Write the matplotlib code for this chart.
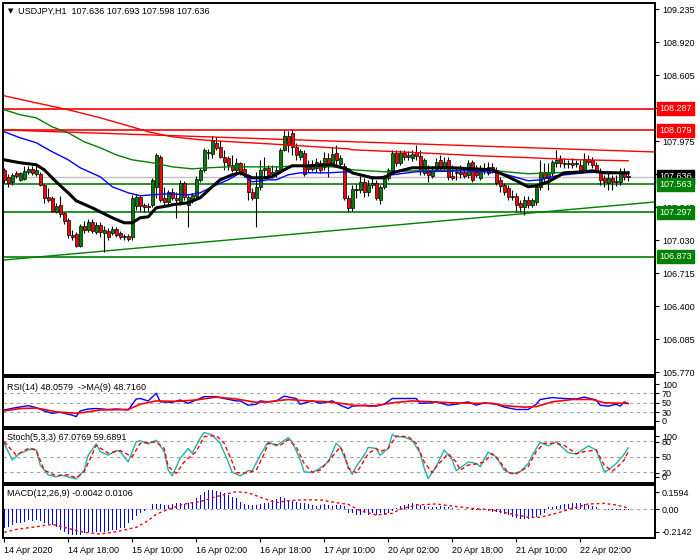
import matplotlib.pyplot as plt
from matplotlib.transforms import blended_transform_factory

plt.rcParams['font.family'] = ['Liberation Sans', 'DejaVu Sans']
FS = 6.5
W, H = 700, 560

# ---- USDJPY H1 candles (bar 0 = 14 Apr 02:00) ----
opens = [107.703, 107.636, 107.588, 107.674, 107.607, 107.617, 107.684, 107.712, 107.665, 107.665,
         107.560, 107.445, 107.436, 107.302, 107.369, 107.292, 107.225, 107.082, 107.092, 106.977,
         107.168, 107.130, 107.206, 107.111, 107.178, 107.101, 107.120, 107.101, 107.140, 107.101,
         107.063, 107.073, 107.063, 107.359, 107.445, 107.369, 107.359, 107.369, 107.541, 107.827,
         107.436, 107.397, 107.493, 107.436, 107.397, 107.579, 107.369, 107.426, 107.455, 107.607,
         107.703, 107.865, 107.856, 107.961, 107.922, 107.827, 107.817, 107.751, 107.703, 107.770,
         107.712, 107.655, 107.493, 107.436, 107.541, 107.703, 107.722, 107.665, 107.684, 107.703,
         107.894, 108.027, 108.056, 107.922, 107.827, 107.865, 107.741, 107.712, 107.722, 107.770,
         107.731, 107.817, 107.770, 107.865, 107.760, 107.741, 107.436, 107.340, 107.521, 107.512,
         107.588, 107.493, 107.560, 107.579, 107.416, 107.541, 107.626, 107.703, 107.865, 107.770,
         107.865, 107.827, 107.817, 107.875, 107.836, 107.674, 107.703, 107.646, 107.712, 107.798,
         107.731, 107.798, 107.646, 107.674, 107.684, 107.684, 107.655, 107.779, 107.684, 107.626,
         107.722, 107.674, 107.731, 107.703, 107.607, 107.560, 107.531, 107.455, 107.455, 107.388,
         107.350, 107.416, 107.369, 107.397, 107.541, 107.684, 107.626, 107.674, 107.770, 107.808,
         107.770, 107.760, 107.770, 107.760, 107.751, 107.703, 107.808, 107.798, 107.751, 107.684,
         107.626, 107.579, 107.626, 107.598, 107.588, 107.684, 107.636]
highs = [107.722, 107.665, 107.674, 107.693, 107.684, 107.741, 107.741, 107.741, 107.741, 107.684,
         107.569, 107.531, 107.455, 107.388, 107.455, 107.302, 107.245, 107.130, 107.111, 107.187,
         107.216, 107.235, 107.235, 107.206, 107.206, 107.168, 107.149, 107.168, 107.159, 107.120,
         107.092, 107.092, 107.464, 107.474, 107.464, 107.388, 107.388, 107.626, 107.865, 107.846,
         107.541, 107.512, 107.531, 107.493, 107.607, 107.598, 107.464, 107.483, 107.646, 107.722,
         107.913, 107.903, 108.027, 108.018, 107.989, 107.894, 107.836, 107.846, 107.817, 107.779,
         107.770, 107.665, 107.531, 107.684, 107.798, 107.827, 107.751, 107.751, 107.741, 107.913,
         108.085, 108.075, 108.085, 107.961, 107.903, 107.894, 107.798, 107.798, 107.817, 107.798,
         107.875, 107.865, 107.922, 107.941, 107.846, 107.770, 107.464, 107.560, 107.569, 107.646,
         107.626, 107.607, 107.626, 107.607, 107.560, 107.655, 107.722, 107.894, 107.894, 107.894,
         107.894, 107.884, 107.894, 107.941, 107.894, 107.817, 107.751, 107.741, 107.817, 107.846,
         107.827, 107.827, 107.751, 107.731, 107.751, 107.722, 107.798, 107.798, 107.751, 107.751,
         107.770, 107.779, 107.770, 107.731, 107.636, 107.579, 107.560, 107.512, 107.483, 107.416,
         107.455, 107.455, 107.436, 107.560, 107.798, 107.770, 107.770, 107.798, 107.894, 107.846,
         107.817, 107.798, 107.817, 107.798, 107.798, 107.865, 107.846, 107.827, 107.779, 107.722,
         107.655, 107.674, 107.655, 107.655, 107.722, 107.722, 107.693]
lows = [107.579, 107.541, 107.560, 107.626, 107.598, 107.607, 107.665, 107.655, 107.646, 107.550,
        107.388, 107.397, 107.302, 107.292, 107.254, 107.187, 107.054, 107.034, 106.968, 106.968,
        107.101, 107.111, 107.101, 107.092, 107.063, 106.920, 107.034, 107.082, 107.063, 107.044,
        107.034, 107.025, 107.034, 107.321, 107.311, 107.302, 107.311, 107.350, 107.436, 107.397,
        107.350, 107.369, 107.416, 107.245, 107.369, 107.416, 107.159, 107.388, 107.436, 107.588,
        107.684, 107.808, 107.817, 107.894, 107.817, 107.703, 107.703, 107.684, 107.674, 107.655,
        107.636, 107.416, 107.416, 107.159, 107.512, 107.636, 107.626, 107.626, 107.636, 107.674,
        107.884, 107.875, 107.846, 107.798, 107.798, 107.646, 107.684, 107.693, 107.684, 107.674,
        107.703, 107.636, 107.741, 107.751, 107.722, 107.416, 107.302, 107.311, 107.436, 107.483,
        107.445, 107.455, 107.531, 107.416, 107.378, 107.521, 107.607, 107.684, 107.741, 107.751,
        107.798, 107.798, 107.789, 107.798, 107.655, 107.655, 107.588, 107.626, 107.693, 107.703,
        107.703, 107.607, 107.607, 107.607, 107.626, 107.626, 107.626, 107.588, 107.636, 107.607,
        107.665, 107.655, 107.674, 107.560, 107.493, 107.464, 107.416, 107.416, 107.302, 107.302,
        107.273, 107.340, 107.350, 107.369, 107.512, 107.579, 107.512, 107.646, 107.731, 107.731,
        107.722, 107.722, 107.722, 107.731, 107.684, 107.684, 107.751, 107.722, 107.674, 107.560,
        107.541, 107.512, 107.512, 107.550, 107.560, 107.607, 107.598]
closes = [107.607, 107.579, 107.655, 107.646, 107.674, 107.693, 107.712, 107.674, 107.703, 107.560,
          107.436, 107.416, 107.311, 107.359, 107.283, 107.216, 107.082, 107.063, 106.977, 107.168,
          107.130, 107.206, 107.120, 107.178, 107.111, 107.130, 107.063, 107.140, 107.082, 107.063,
          107.073, 107.044, 107.436, 107.445, 107.359, 107.350, 107.350, 107.607, 107.846, 107.416,
          107.397, 107.493, 107.436, 107.416, 107.579, 107.445, 107.445, 107.464, 107.617, 107.703,
          107.894, 107.875, 107.980, 107.913, 107.827, 107.779, 107.751, 107.703, 107.770, 107.674,
          107.655, 107.493, 107.436, 107.541, 107.703, 107.722, 107.655, 107.684, 107.703, 107.894,
          108.027, 107.941, 107.922, 107.846, 107.884, 107.665, 107.712, 107.760, 107.779, 107.703,
          107.817, 107.751, 107.856, 107.798, 107.817, 107.436, 107.340, 107.521, 107.512, 107.588,
          107.493, 107.560, 107.579, 107.436, 107.541, 107.626, 107.703, 107.865, 107.770, 107.865,
          107.827, 107.846, 107.856, 107.836, 107.693, 107.798, 107.655, 107.703, 107.779, 107.731,
          107.779, 107.636, 107.626, 107.684, 107.665, 107.646, 107.770, 107.607, 107.655, 107.703,
          107.703, 107.731, 107.703, 107.579, 107.550, 107.493, 107.445, 107.445, 107.369, 107.350,
          107.416, 107.369, 107.416, 107.541, 107.684, 107.626, 107.684, 107.779, 107.798, 107.770,
          107.760, 107.770, 107.751, 107.770, 107.703, 107.808, 107.779, 107.751, 107.703, 107.607,
          107.588, 107.626, 107.588, 107.588, 107.684, 107.636, 107.636]

# ---- moving averages (sampled bars) ----
ma_black_idx = [0, 4, 8, 10, 13, 16, 18, 22, 24, 27, 30, 32, 34, 36, 38, 41, 42, 46, 49, 52, 54, 57,
                59, 62, 65, 67, 70, 72, 76, 82, 86, 87, 92, 95, 97, 102, 112, 122, 126, 131, 133,
                136, 140, 145, 147, 150, 156]
ma_black = [107.798, 107.770, 107.751, 107.703, 107.588, 107.483, 107.407, 107.340, 107.302, 107.245,
            107.197, 107.197, 107.245, 107.254, 107.340, 107.359, 107.369, 107.388, 107.436, 107.541,
            107.607, 107.655, 107.674, 107.626, 107.626, 107.636, 107.703, 107.741, 107.741, 107.751,
            107.703, 107.674, 107.626, 107.626, 107.674, 107.722, 107.722, 107.703, 107.636, 107.541,
            107.550, 107.588, 107.674, 107.684, 107.693, 107.674, 107.674]
ma_blue_idx = [0, 4, 8, 12, 16, 19, 24, 27, 31, 34, 37, 41, 46, 49, 52, 56, 59, 62, 66, 68, 71, 74,
               81, 86, 87, 93, 97, 103, 116, 124, 131, 134, 138, 145, 150, 156]
ma_blue = [108.066, 108.008, 107.961, 107.875, 107.798, 107.722, 107.636, 107.541, 107.483, 107.455,
           107.464, 107.474, 107.464, 107.483, 107.541, 107.607, 107.674, 107.588, 107.607, 107.607,
           107.655, 107.674, 107.674, 107.684, 107.674, 107.626, 107.655, 107.684, 107.693, 107.674,
           107.598, 107.607, 107.646, 107.674, 107.684, 107.665]
ma_green_idx = [0, 4, 8, 12, 16, 20, 24, 28, 32, 37, 42, 47, 51, 56, 62, 68, 74, 82, 86, 87, 95, 103,
                120, 131, 137, 145, 156]
ma_green = [108.276, 108.228, 108.199, 108.113, 108.056, 107.970, 107.913, 107.846, 107.798, 107.770,
            107.731, 107.712, 107.722, 107.731, 107.731, 107.731, 107.741, 107.731, 107.712, 107.703,
            107.684, 107.693, 107.703, 107.665, 107.674, 107.684, 107.674]
ma_red_idx = [0, 8, 16, 24, 31, 36, 42, 49, 57, 66, 74, 86, 87, 104, 119, 132, 144, 156]
ma_red = [108.409, 108.342, 108.276, 108.199, 108.123, 108.066, 108.018, 107.989, 107.970, 107.951,
          107.932, 107.903, 107.894, 107.865, 107.836, 107.817, 107.798, 107.789]

# ---- levels and trend lines ----
res_levels = [108.287, 108.079]
sup_levels = [107.563, 107.297, 106.873]
last_price = 107.636
red_trend = [108.083, 107.873]     # from first bar to right edge
green_trend = [106.842, 107.396]

# ---- RSI(14) and its MA(9) ----
rsi_idx = [0, 3, 6, 8, 10, 12, 14, 17, 18, 19, 21, 23, 26, 28, 31, 33, 34, 36, 38, 39, 42, 44, 46,
           48, 50, 53, 55, 58, 59, 61, 63, 64, 66, 68, 70, 73, 74, 77, 79, 82, 84, 86, 87, 90, 93,
           95, 97, 99, 103, 104, 107, 108, 111, 113, 116, 118, 120, 123, 125, 128, 131, 133, 134,
           137, 140, 143, 145, 148, 149, 151, 153, 154, 155, 156]
rsi = [35, 40, 44, 40, 33, 28, 30, 24, 21, 33, 37, 38, 36, 37, 35, 58, 59, 54, 70, 52, 51, 56, 49,
       56, 63, 63, 59, 54, 54, 45, 47, 54, 52, 54, 64, 59, 47, 54, 49, 54, 45, 38, 43, 45, 43, 47,
       59, 59, 59, 49, 50, 52, 45, 47, 52, 45, 50, 47, 41, 36, 36, 47, 57, 61, 59, 58, 62, 56, 45,
       43, 47, 43, 52, 48.06]
rsi_ma_idx = [0, 4, 8, 10, 13, 18, 21, 24, 31, 34, 38, 43, 48, 53, 58, 63, 66, 71, 76, 81, 86, 87,
              92, 97, 102, 107, 112, 117, 122, 125, 130, 133, 137, 142, 147, 150, 156]
rsi_ma = [33, 38, 39, 36, 31, 28, 31, 35, 36, 47, 54, 53, 56, 62, 58, 51, 52, 57, 54, 52, 47, 45,
          43, 50, 54, 52, 50, 49, 49, 44, 41, 42, 52, 57, 57, 50, 48.72]

# ---- Stochastic(5,3,3) ----
stoch_idx = [0, 2, 4, 7, 8, 9, 11, 13, 14, 16, 18, 20, 21, 23, 24, 26, 28, 29, 31, 33, 34, 36, 38,
             40, 41, 42, 44, 46, 47, 49, 50, 52, 54, 56, 57, 59, 61, 62, 64, 66, 68, 71, 72, 74, 75,
             77, 79, 81, 83, 84, 86, 87, 88, 90, 91, 93, 94, 96, 97, 98, 100, 102, 104, 105, 106,
             108, 110, 112, 113, 115, 116, 118, 119, 121, 123, 125, 127, 129, 131, 132, 134, 136,
             138, 141, 143, 146, 148, 150, 151, 153, 155, 156]
stoch_k = [76, 44, 57, 66, 63, 34, 15, 11, 15, 11, 7, 24, 53, 75, 60, 53, 62, 60, 40, 79, 81, 75,
           82, 60, 24, 13, 47, 66, 57, 86, 97, 92, 76, 40, 20, 13, 23, 23, 53, 79, 71, 87, 79, 44,
           21, 19, 28, 40, 76, 69, 31, 16, 31, 53, 68, 66, 53, 66, 93, 89, 88, 82, 57, 28, 8, 31,
           63, 44, 23, 34, 40, 37, 31, 59, 50, 24, 17, 21, 37, 53, 78, 71, 79, 58, 55, 71, 63, 21,
           24, 37, 55, 67.08]
stoch_d_idx = [0, 3, 6, 8, 10, 13, 16, 18, 20, 22, 23, 26, 29, 32, 34, 38, 40, 41, 43, 45, 48, 50,
               53, 55, 57, 58, 61, 63, 65, 66, 69, 71, 73, 75, 77, 79, 82, 84, 85, 86, 88, 89, 91,
               93, 94, 96, 98, 101, 103, 105, 107, 108, 111, 113, 114, 116, 118, 120, 122, 124, 126,
               128, 131, 133, 135, 138, 140, 143, 145, 148, 150, 152, 153, 155, 156]
stoch_d = [79, 53, 66, 63, 24, 13, 15, 9, 21, 55, 72, 57, 62, 50, 76, 79, 66, 31, 18, 40, 60, 89,
           91, 76, 40, 19, 19, 24, 56, 76, 72, 83, 69, 37, 20, 24, 50, 69, 56, 28, 19, 30, 56, 66,
           60, 66, 90, 89, 76, 40, 19, 31, 56, 40, 24, 34, 36, 40, 56, 40, 19, 17, 31, 60, 76, 76,
           72, 56, 60, 63, 34, 22, 28, 44, 59.69]

# ---- MACD(12,26,9) ----
macd_hist = [-0.157, -0.144, -0.130, -0.115, -0.110, -0.102, -0.088, -0.093, -0.088, -0.093,
             -0.110, -0.124, -0.130, -0.149, -0.171, -0.190, -0.204, -0.212, -0.214, -0.212,
             -0.198, -0.190, -0.185, -0.185, -0.185, -0.185, -0.179, -0.171, -0.171, -0.157,
             -0.157, -0.115, -0.088, -0.055, -0.033, -0.011, 0.002, 0.044, 0.044, 0.044,
             0.036, 0.036, 0.044, 0.055, 0.049, 0.044, 0.055, 0.063, 0.091, 0.118,
             0.146, 0.159, 0.159, 0.154, 0.146, 0.132, 0.118, 0.105, 0.091, 0.063,
             0.044, 0.036, 0.036, 0.036, 0.044, 0.049, 0.055, 0.078, 0.083, 0.100,
             0.091, 0.078, 0.069, 0.063, 0.055, 0.049, 0.044, 0.036, 0.027, 0.036,
             0.044, 0.036, 0.027, 0.036, 0.036, 0.027, -0.033, -0.033, -0.047, -0.047,
             -0.033, -0.047, -0.033, -0.047, -0.033, -0.047, -0.033, -0.011, 0.009, 0.027,
             0.036, 0.044, 0.049, 0.044, 0.036, 0.027, 0.022, 0.022, 0.022, 0.027,
             0.022, 0.017, 0.009, 0.004, 0.003, 0.002, 0.000, -0.003, -0.004, -0.007,
             -0.009, -0.013, -0.018, -0.019, -0.027, -0.039, -0.047, -0.066, -0.074, -0.080,
             -0.083, -0.080, -0.074, -0.061, -0.047, -0.027, 0.017, 0.022, 0.027, 0.036,
             0.041, 0.044, 0.049, 0.055, 0.049, 0.044, 0.036, 0.027, 0.017, 0.004,
             0.000, -0.002, -0.003, -0.004, -0.004, -0.004, -0.004]
macd_sig_idx = [0, 3, 8, 12, 16, 20, 24, 28, 33, 36, 38, 41, 45, 49, 53, 58, 61, 64, 68, 71, 74,
                79, 83, 86, 89, 93, 97, 99, 103, 108, 112, 117, 122, 126, 131, 134, 138, 142, 146,
                150, 153, 156]
macd_sig = [-0.190, -0.166, -0.144, -0.124, -0.157, -0.190, -0.204, -0.185, -0.149, -0.093, -0.041,
            0.000, 0.044, 0.063, 0.105, 0.146, 0.137, 0.100, 0.055, 0.071, 0.078, 0.078, 0.055,
            0.041, -0.011, -0.047, -0.033, 0.000, 0.036, 0.044, 0.027, 0.008, -0.005, -0.033,
            -0.066, -0.066, -0.033, 0.008, 0.044, 0.049, 0.036, 0.011]

time_ticks = [0, 16, 32, 48, 64, 80, 96, 112, 128, 144]
time_labels = ['14 Apr 2020', '14 Apr 18:00', '15 Apr 10:00', '16 Apr 02:00', '16 Apr 18:00',
               '17 Apr 10:00', '20 Apr 02:00', '20 Apr 18:00', '21 Apr 10:00', '22 Apr 02:00']

GREEN = '#008000'
RED = '#ff0000'
GRID = '#a0a0a0'

fig = plt.figure(figsize=(W / 100, H / 100), dpi=100)


def panel(top, bottom):
    ax = fig.add_axes([3 / W, 1 - bottom / H, 652 / W, (bottom - top) / H])
    ax.set_xlim(-0.3, 162.7)
    ax.yaxis.tick_right()
    ax.tick_params(axis='y', labelsize=FS, length=3, pad=2, direction='out')
    ax.tick_params(axis='x', bottom=False, labelbottom=False)
    for s in ax.spines.values():
        s.set_linewidth(1.4)
    return ax


def tag(ax, y, text, color):
    tr = blended_transform_factory(ax.transAxes, ax.transData)
    ax.text(1.0066, y, text, transform=tr, ha='left', va='center', color='white', fontsize=FS,
            bbox=dict(boxstyle='square,pad=0.25', fc=color, ec=color), clip_on=False, zorder=10)


# ---------- main price panel ----------
ax = panel(3, 375)
ax.set_ylim(105.744, 109.295)
ticks = [109.235, 108.920, 108.605, 108.290, 107.975, 107.660, 107.345, 107.030, 106.715,
         106.400, 106.085, 105.770]
ax.set_yticks(ticks)
# 108.290 sits fully under the 108.287 tag, so its label is left blank
ax.set_yticklabels(['' if t == 108.290 else '%.3f' % t for t in ticks])

n = len(closes)
xs = list(range(n))
ax.axhline(last_price, color='#c0c0c0', lw=1, zorder=1)
for lv in res_levels:
    ax.axhline(lv, color=RED, lw=1.2, zorder=2)
for lv in sup_levels:
    ax.axhline(lv, color=GREEN, lw=1.2, zorder=2)
ax.plot([0, 162.7], red_trend, color=RED, lw=1, zorder=2)
ax.plot([0, 162.7], green_trend, color=GREEN, lw=1, zorder=2)

ax.vlines(xs, lows, highs, color='black', lw=0.8, zorder=3)
bottoms = [min(o, c) for o, c in zip(opens, closes)]
heights = [max(abs(c - o), 0.003) for o, c in zip(opens, closes)]
colors = [GREEN if c > o else (RED if c < o else 'black') for o, c in zip(opens, closes)]
ax.bar(xs, heights, 0.66, bottoms, color=colors, edgecolor='black', linewidth=0.5, zorder=4)

ax.plot(ma_red_idx, ma_red, color=RED, lw=1, zorder=5)
ax.plot(ma_green_idx, ma_green, color=GREEN, lw=1, zorder=5)
ax.plot(ma_blue_idx, ma_blue, color='blue', lw=1, zorder=5)
ax.plot(ma_black_idx, ma_black, color='black', lw=2.2, zorder=6)

tag(ax, 108.287, '108.287', RED)
tag(ax, 108.079, '108.079', RED)
tag(ax, last_price, '107.636', 'black')
tag(ax, 107.563, '107.563', GREEN)
tag(ax, 107.297, '107.297', GREEN)
tag(ax, 106.873, '106.873', GREEN)

fig.text(8 / W, 1 - 11 / H, '\u25bc', fontsize=5, family='DejaVu Sans', va='center')
fig.text(18 / W, 1 - 11 / H, 'USDJPY,H1  107.636 107.693 107.598 107.636', fontsize=FS, va='center')

# ---------- RSI ----------
ax_rsi = panel(377, 427)
ax_rsi.set_ylim(-0.8, 104.2)
for lv in [70, 50, 30]:
    ax_rsi.axhline(lv, color=GRID, lw=0.8, ls=(0, (3, 3)))
ax_rsi.plot(rsi_idx, rsi, color='blue', lw=1)
ax_rsi.plot(rsi_ma_idx, rsi_ma, color=RED, lw=1.2)
ax_rsi.set_yticks([89.5, 70, 50, 30, 11.8])
ax_rsi.set_yticklabels(['100', '70', '50', '30', '0'])
fig.text(7 / W, 1 - 387 / H, 'RSI(14) 48.0579  ->MA(9) 48.7160', fontsize=FS, va='center')

# ---------- Stochastic ----------
ax_st = panel(429, 483)
ax_st.set_ylim(-0.8, 103.7)
for lv in [80, 50, 20]:
    ax_st.axhline(lv, color=GRID, lw=0.8, ls=(0, (3, 3)))
ax_st.plot(stoch_idx, stoch_k, color='#20b2aa', lw=1)
ax_st.plot(stoch_d_idx, stoch_d, color=RED, lw=1, ls=(0, (3, 2)))
ax_st.set_yticks([90, 79, 50, 19, 11.4])
ax_st.set_yticklabels(['100', '80', '50', '20', '0'])
fig.text(7 / W, 1 - 438 / H, 'Stoch(5,3,3) 67.0769 59.6891', fontsize=FS, va='center')

# ---------- MACD ----------
ax_m = panel(485, 538)
ax_m.set_ylim(-0.237, 0.201)
ax_m.axhline(0, color=GRID, lw=0.8, ls=(0, (3, 3)))
ax_m.bar(xs, macd_hist, 0.3, color='blue', zorder=3)
ax_m.plot(macd_sig_idx, macd_sig, color=RED, lw=1, ls=(0, (2, 2)), zorder=4)
ax_m.set_yticks([0.140, 0, -0.185])
ax_m.set_yticklabels(['0.1594', '0.00', '-0.2142'])
fig.text(7 / W, 1 - 494 / H, 'MACD(12,26,9) -0.0042 0.0106', fontsize=FS, va='center')

ax_m.tick_params(axis='x', bottom=True, labelbottom=True, labelsize=FS, length=3, pad=3)
ax_m.set_xticks(time_ticks)
ax_m.set_xticklabels(time_labels, ha='left')

fig.savefig('out.png', dpi=100)
